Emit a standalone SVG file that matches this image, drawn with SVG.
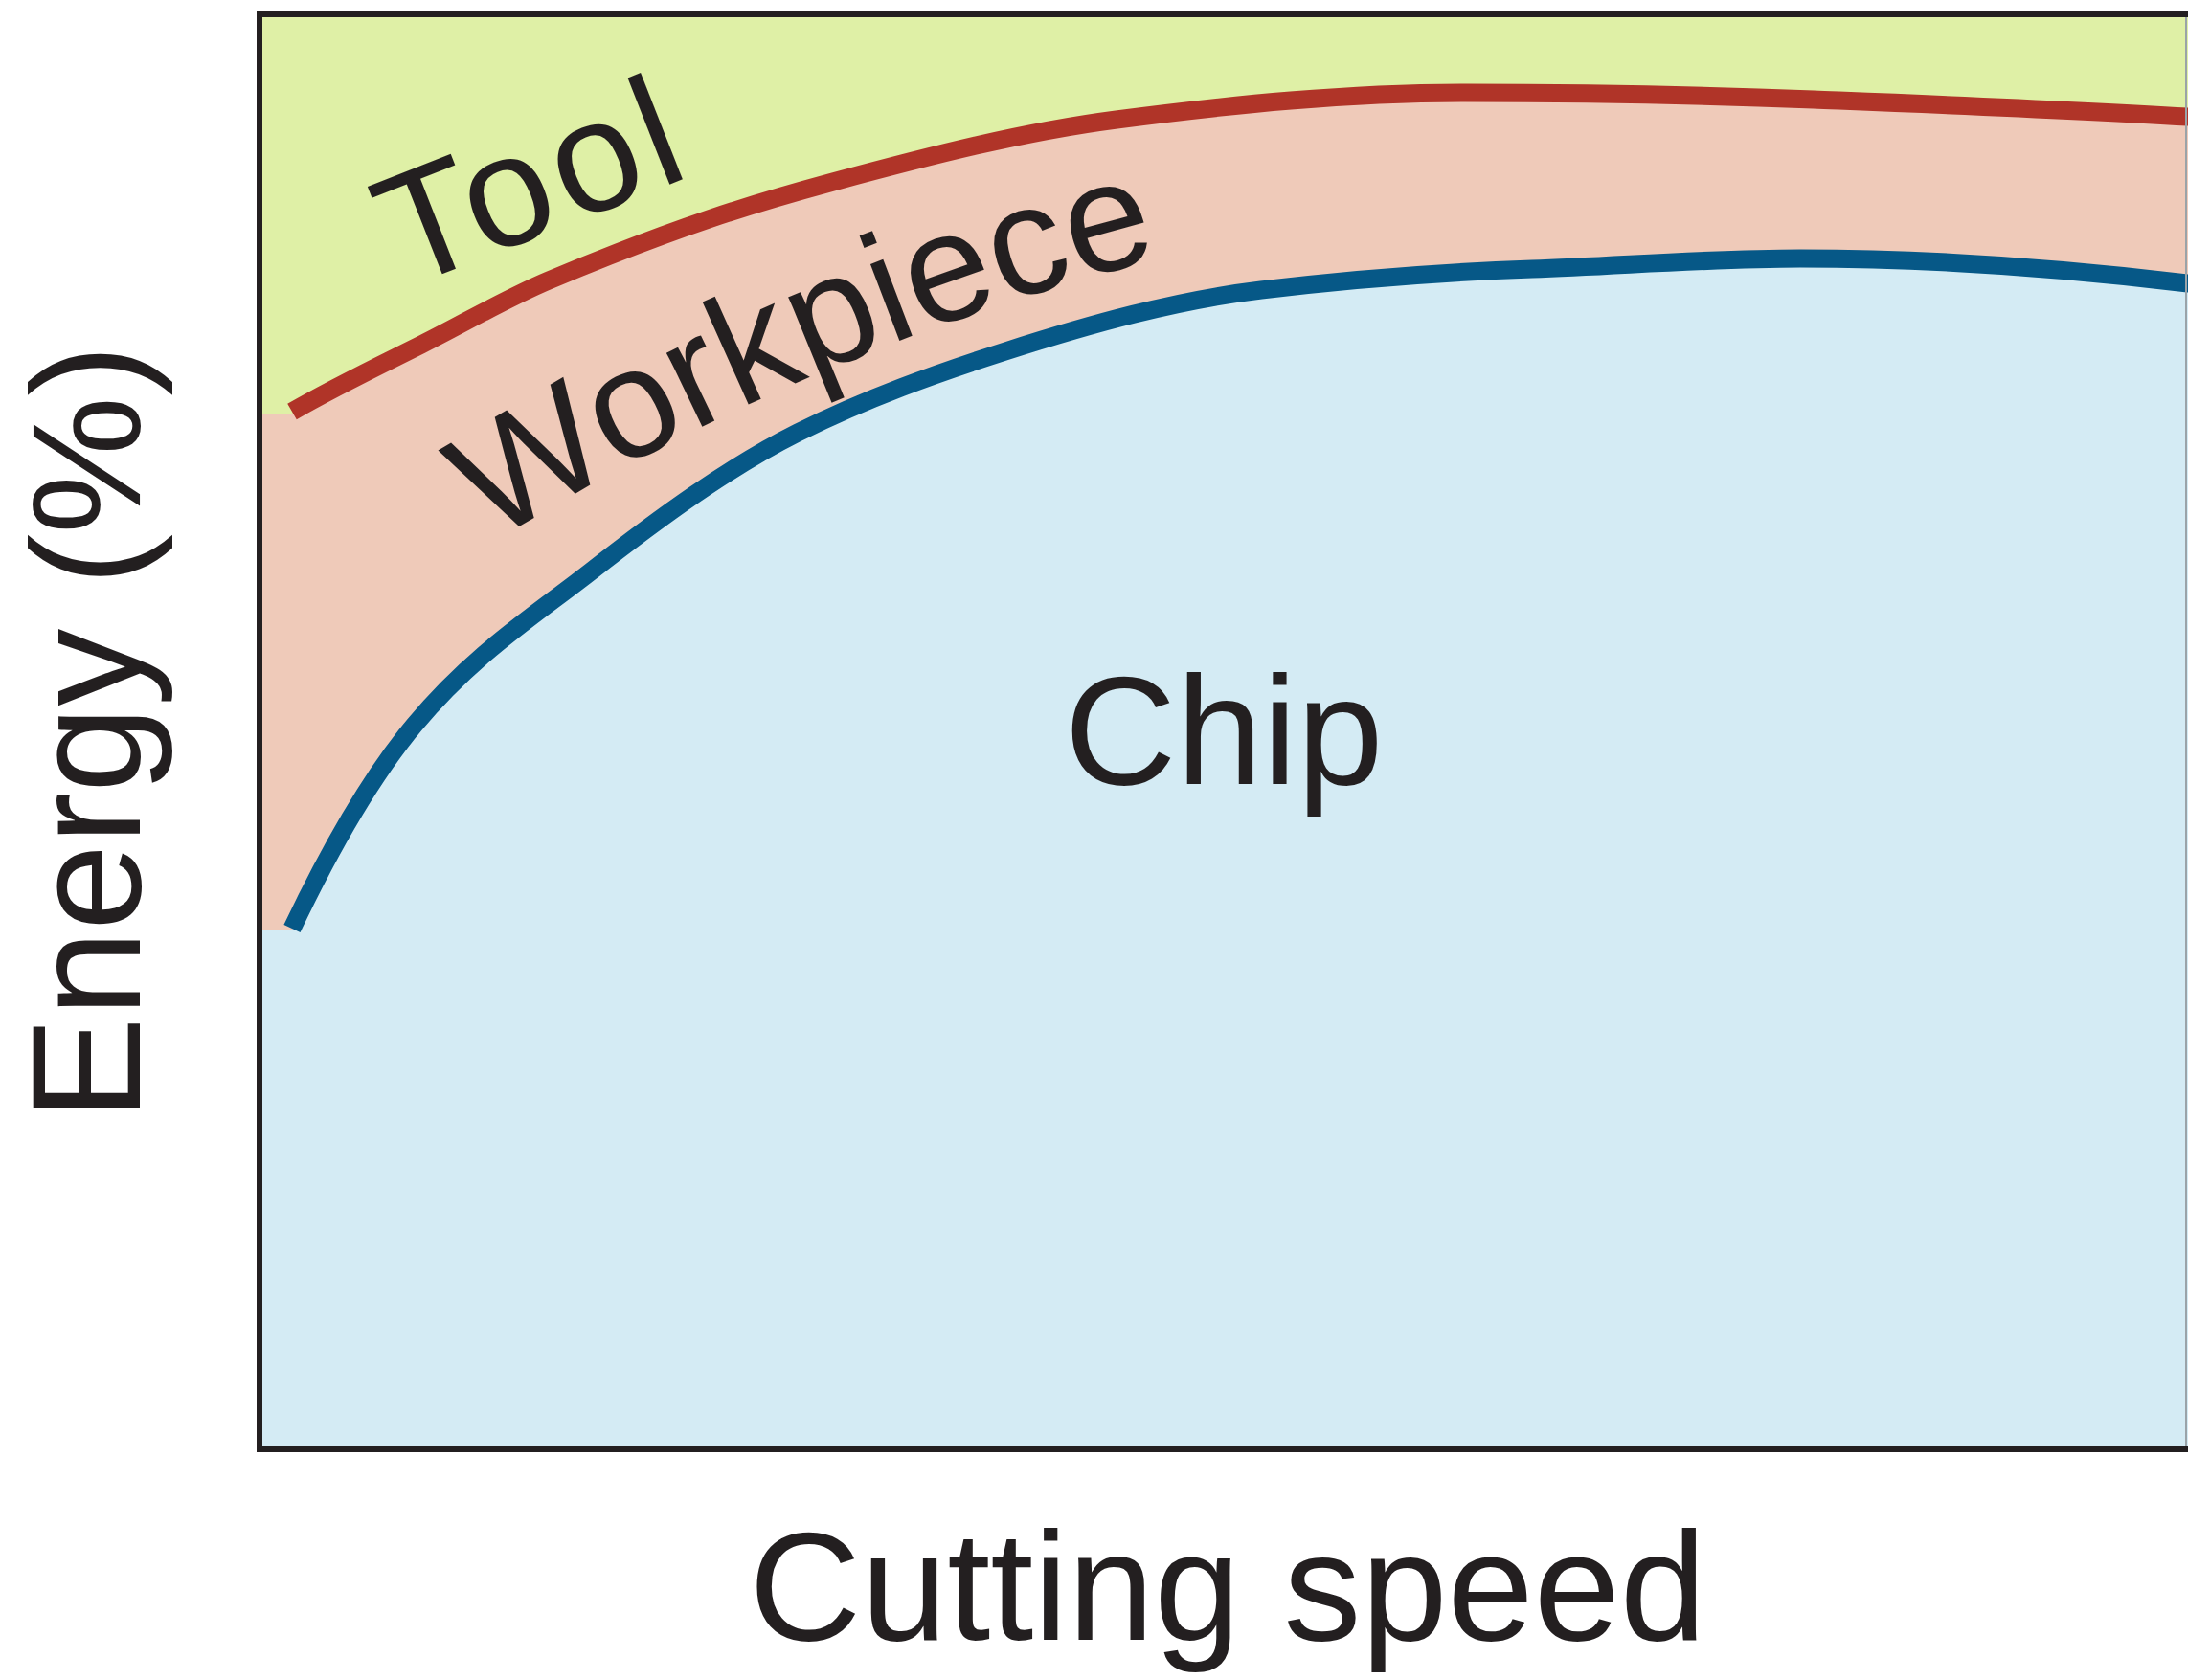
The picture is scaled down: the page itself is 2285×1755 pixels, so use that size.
<svg xmlns="http://www.w3.org/2000/svg" width="2285" height="1755" viewBox="0 0 2285 1755">
  <style>
    .lbl { font-family: "Liberation Sans", Arial, sans-serif; font-size: 162px; fill: #231f20; }
    .curve { fill: none; stroke-width: 19; stroke-linecap: butt; }
  </style>
  <defs>
    <clipPath id="plot">
      <rect x="271" y="15" width="2014" height="1499"/>
    </clipPath>
    <path id="wp-baseline" d="M514,568 C728,432 996,318 1260,258"/>
  </defs>
  <rect x="0" y="0" width="2285" height="1755" fill="#ffffff"/>
  <g id="regions" clip-path="url(#plot)">
    <rect id="chip-region" x="271" y="15" width="2014" height="1499" fill="#d4ebf4"/>
    <path id="workpiece-region" fill="#efcab9" d="M271,972 L305,972 C347.7,880.3 390.3,808.2 433,757 C494.3,683.4 555.7,644.8 617,597 C689,540.8 761,488 833,452 C905.3,415.8 977.7,390.1 1050,367 C1139,338.5 1228,313.7 1317,303 C1411.3,291.7 1505.7,284.3 1600,281 C1693.3,277.7 1786.7,270 1880,270 C2015,270 2150,279.8 2285,296 L2285,15 L271,15 Z"/>
    <path id="tool-region" fill="#dff0a6" d="M271,432 L305,432 C350,403.9 395,382.5 440,360 C484.3,337.8 528.7,311.6 573,293 C628.7,269.6 684.3,247.9 740,229 C783.3,214.3 826.7,201.7 870,190 C968.7,163.4 1067.3,137.8 1166,125 C1287.3,109.2 1408.7,97 1530,97 C1651.3,97 1772.7,99.1 1894,104 C2024.3,109.2 2154.7,114.2 2285,122 L2285,15 L271,15 Z"/>
  </g>
  <g id="connectors" clip-path="url(#plot)">
    <path id="chip-curve" class="curve" stroke="#065887" d="M305,970 C347.7,880.3 390.3,808.2 433,757 C494.3,683.4 555.7,644.8 617,597 C689,540.8 761,488 833,452 C905.3,415.8 977.7,390.1 1050,367 C1139,338.5 1228,313.7 1317,303 C1411.3,291.7 1505.7,284.3 1600,281 C1693.3,277.7 1786.7,270 1880,270 C2015,270 2150,279.8 2285,296 L2295,297"/>
    <path id="tool-curve" class="curve" stroke="#b03428" d="M305,430 C350,403.9 395,382.5 440,360 C484.3,337.8 528.7,311.6 573,293 C628.7,269.6 684.3,247.9 740,229 C783.3,214.3 826.7,201.7 870,190 C968.7,163.4 1067.3,137.8 1166,125 C1287.3,109.2 1408.7,97 1530,97 C1651.3,97 1772.7,99.1 1894,104 C2024.3,109.2 2154.7,114.2 2285,122 L2295,123"/>
  </g>
  <g id="frame">
    <path d="M2283,15 L2283,1514" fill="none" stroke="#9aa3a8" stroke-width="2"/>
    <path d="M2285,15 L271,15 L271,1514 L2285,1514" fill="none" stroke="#231f20" stroke-width="6"/>
  </g>
  <g id="tool-label">
    <text class="lbl" style="font-size:165px; letter-spacing:7px" transform="translate(422,302) rotate(-21.5)">Tool</text>
  </g>
  <g id="workpiece-label">
    <text class="lbl"><textPath href="#wp-baseline">Workpiece</textPath></text>
  </g>
  <g id="chip-label">
    <text class="lbl" x="1278" y="819" text-anchor="middle">Chip</text>
  </g>
  <g id="x-axis-label">
    <text class="lbl" x="1282" y="1713" text-anchor="middle">Cutting speed</text>
  </g>
  <g id="y-axis-label">
    <text class="lbl" transform="translate(146,765) rotate(-90)" text-anchor="middle">Energy (%)</text>
  </g>
</svg>
